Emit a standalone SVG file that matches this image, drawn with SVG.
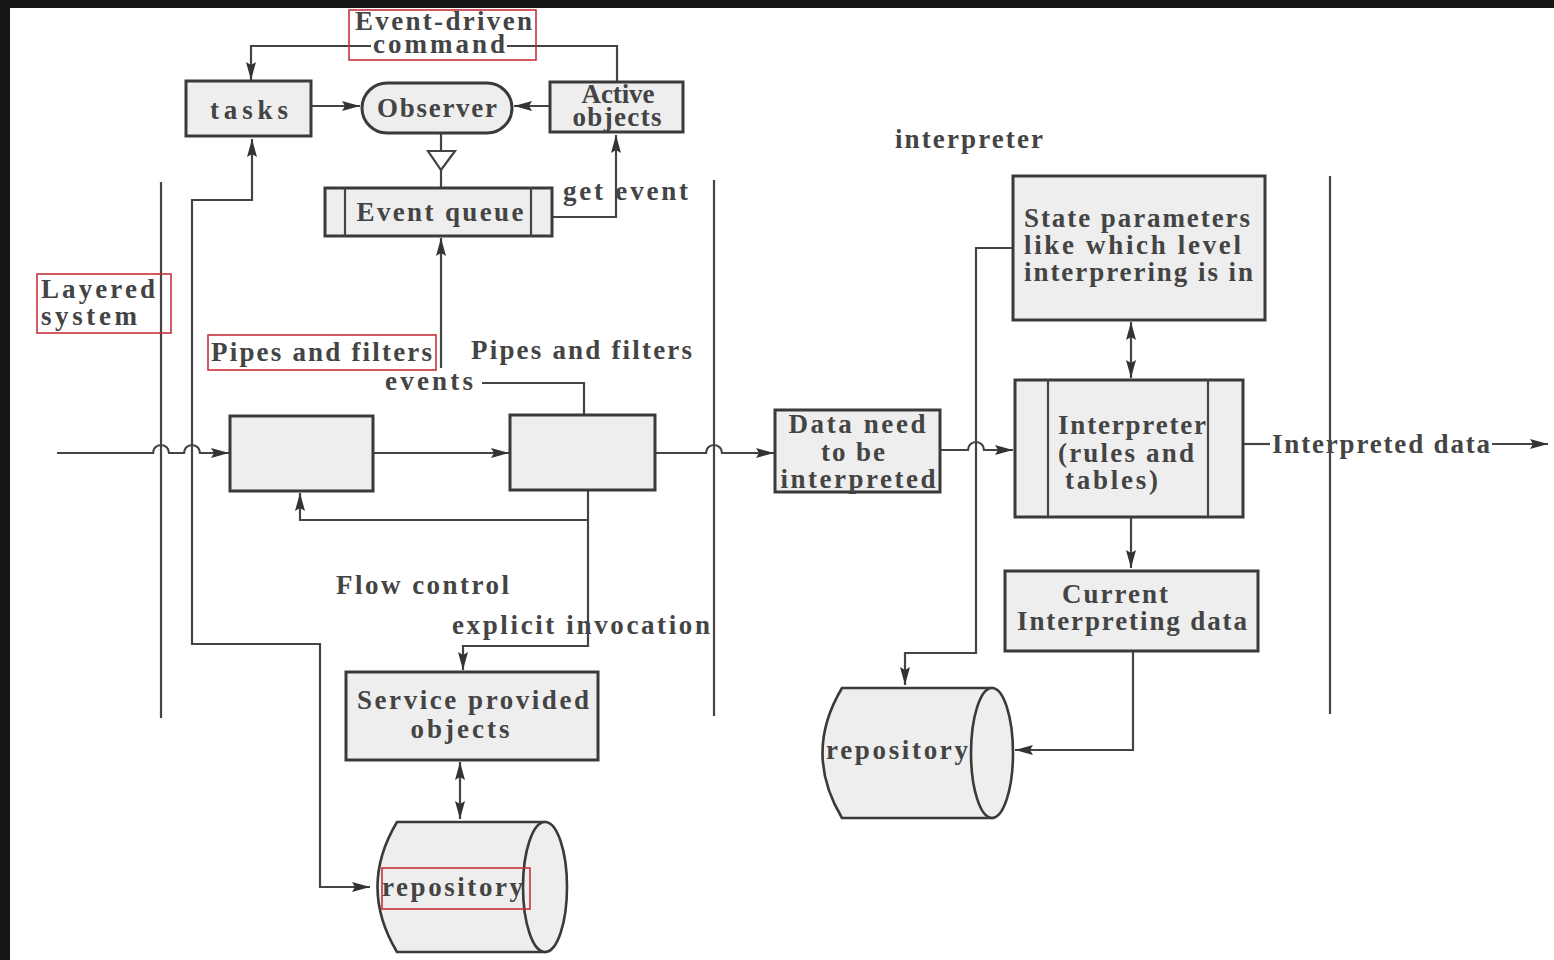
<svg xmlns="http://www.w3.org/2000/svg" width="1554" height="960" viewBox="0 0 1554 960">
<defs>
<marker id="ah" viewBox="0 0 18 10" refX="18" refY="5" markerWidth="18" markerHeight="10" markerUnits="userSpaceOnUse" orient="auto-start-reverse"><path d="M0,0 L18,5 L0,10 L3,5 z" fill="#333"/></marker>
<style>
.box{fill:#eeeeee;stroke:#3a3a3a;stroke-width:3}
.ln{fill:none;stroke:#444;stroke-width:2.2}
.arr{fill:none;stroke:#444;stroke-width:2.2;marker-end:url(#ah)}
.dbl{fill:none;stroke:#444;stroke-width:2.2;marker-end:url(#ah);marker-start:url(#ah)}
.red{fill:none;stroke:#c8303f;stroke-width:1.6}
text{font-family:"Liberation Serif","Times New Roman",serif;font-weight:bold;fill:#444;font-size:27px}
.c{text-anchor:middle}
</style>
</defs>
<rect x="0" y="0" width="1554" height="960" fill="#ffffff"/>
<rect x="0" y="0" width="1554" height="8" fill="#161616"/>
<rect x="0" y="0" width="10" height="960" fill="#161616"/>

<g id="layer-lines">
<line class="ln" x1="161" y1="182" x2="161" y2="718"/>
<line class="ln" x1="714" y1="180" x2="714" y2="716"/>
<line class="ln" x1="1330" y1="176" x2="1330" y2="714"/>
</g>

<g id="connectors">
<path class="ln" d="M617,82 V46 H507"/>
<path class="arr" d="M371,46 H251 V80"/>
<path class="arr" d="M311,106 H360"/>
<path class="arr" d="M550,106 H514"/>
<path class="ln" d="M441,133 V151 M441,170 V188"/>
<polygon points="428,151 455,151 441,170" fill="#ffffff" stroke="#444" stroke-width="2.2"/>
<path class="arr" d="M552,217 H616 V135"/>
<path class="dbl" d="M252,139 V200 H192 V644 H320 V887 H370"/>
<path class="arr" d="M57,453 H153 a8,8 0 0 1 16,0 H184 a8,8 0 0 1 16,0 H229"/>
<path class="arr" d="M373,453 H509"/>
<path class="ln" d="M584,415 V383 H482"/>
<path class="arr" d="M441,368 V238"/>
<path class="arr" d="M588,520 H300 V493"/>
<path class="arr" d="M588,490 V646 H463 V670"/>
<path class="dbl" d="M460,762 V819"/>
<path class="arr" d="M655,453 H706 a8,8 0 0 1 16,0 H774"/>
<path class="arr" d="M940,450 H968 a8,8 0 0 1 16,0 H1013"/>
<path class="arr" d="M1013,248 H976 V653 H905 V685"/>
<path class="dbl" d="M1131,322 V378"/>
<path class="arr" d="M1131,517 V568"/>
<path class="arr" d="M1133,651 V750 H1015"/>
<path class="ln" d="M1243,444 H1270"/>
<path class="arr" d="M1492,444 H1548"/>
</g>

<g id="tasks"><rect class="box" x="186" y="81" width="125" height="55"/><text class="c" x="249" y="119" font-size="32" textLength="78" lengthAdjust="spacing">tasks</text></g>
<g id="observer"><rect class="box" x="362" y="83" width="150" height="50" rx="25"/><text class="c" x="437" y="117" font-size="28" textLength="120" lengthAdjust="spacing">Observer</text></g>
<g id="active-objects"><rect class="box" x="550" y="82" width="133" height="50"/><text class="c" x="618" y="103" font-size="21" textLength="73" lengthAdjust="spacing">Active</text><text class="c" x="617" y="126" font-size="21" textLength="89" lengthAdjust="spacing">objects</text></g>
<g id="event-queue"><rect class="box" x="325" y="188" width="227" height="48"/><line class="ln" x1="345" y1="188" x2="345" y2="236" stroke-width="3"/><line class="ln" x1="531" y1="188" x2="531" y2="236" stroke-width="3"/><text class="c" x="440" y="221" textLength="167" lengthAdjust="spacing">Event queue</text></g>
<g id="filter1"><rect class="box" x="230" y="416" width="143" height="75"/></g>
<g id="filter2"><rect class="box" x="510" y="415" width="145" height="75"/></g>
<g id="service"><rect class="box" x="346" y="672" width="252" height="88"/><text class="c" x="473" y="709" textLength="232" lengthAdjust="spacing">Service provided</text><text class="c" x="460" y="738" textLength="99" lengthAdjust="spacing">objects</text></g>
<g id="repository1">
<path d="M397,822 H545 V952 H397 Q358,887 397,822 z" fill="#eeeeee" stroke="#3a3a3a" stroke-width="2.6"/>
<ellipse cx="545" cy="887" rx="22" ry="65" fill="#eeeeee" stroke="#3a3a3a" stroke-width="2.6"/>
<text x="382" y="896" textLength="141" lengthAdjust="spacing">repository</text>
</g>
<g id="data-need"><rect class="box" x="775" y="410" width="165" height="82"/><text class="c" x="857" y="433" textLength="137" lengthAdjust="spacing">Data need</text><text class="c" x="853" y="461" textLength="64" lengthAdjust="spacing">to be</text><text class="c" x="858" y="488" textLength="155" lengthAdjust="spacing">interpreted</text></g>
<g id="state-params"><rect class="box" x="1013" y="176" width="252" height="144"/><text x="1024" y="227" textLength="226" lengthAdjust="spacing">State parameters</text><text x="1024" y="254" textLength="217" lengthAdjust="spacing">like which level</text><text x="1024" y="281" textLength="229" lengthAdjust="spacing">interprering is in</text></g>
<g id="interpreter"><rect class="box" x="1015" y="380" width="228" height="137"/><line class="ln" x1="1048" y1="380" x2="1048" y2="517" stroke-width="3"/><line class="ln" x1="1208" y1="380" x2="1208" y2="517" stroke-width="3"/><text x="1058" y="434" textLength="148" lengthAdjust="spacing">Interpreter</text><text x="1058" y="462" textLength="136" lengthAdjust="spacing">(rules and</text><text x="1065" y="489" textLength="93" lengthAdjust="spacing">tables)</text></g>
<g id="current-data"><rect class="box" x="1005" y="571" width="253" height="80"/><text class="c" x="1115" y="603" textLength="106" lengthAdjust="spacing">Current</text><text class="c" x="1132" y="630" textLength="230" lengthAdjust="spacing">Interpreting data</text></g>
<g id="repository2">
<path d="M842,688 H992 V818 H842 Q803,753 842,688 z" fill="#eeeeee" stroke="#3a3a3a" stroke-width="2.6"/>
<ellipse cx="992" cy="753" rx="21" ry="65" fill="#eeeeee" stroke="#3a3a3a" stroke-width="2.6"/>
<text x="826" y="759" textLength="142" lengthAdjust="spacing">repository</text>
</g>

<g id="labels">
<text x="355" y="30" font-size="24" textLength="177" lengthAdjust="spacing">Event-driven</text>
<text x="373" y="53" font-size="24" textLength="132" lengthAdjust="spacing">command</text>
<text x="563" y="200" font-size="26" textLength="125" lengthAdjust="spacing">get event</text>
<text x="895" y="148" font-size="24" textLength="148" lengthAdjust="spacing">interpreter</text>
<text x="41" y="298" textLength="114" lengthAdjust="spacing">Layered</text>
<text x="41" y="325" textLength="96" lengthAdjust="spacing">system</text>
<text x="211" y="361" textLength="221" lengthAdjust="spacing">Pipes and filters</text>
<text x="471" y="359" textLength="221" lengthAdjust="spacing">Pipes and filters</text>
<text x="385" y="390" textLength="88" lengthAdjust="spacing">events</text>
<text x="336" y="594" textLength="173" lengthAdjust="spacing">Flow control</text>
<text x="452" y="634" textLength="258" lengthAdjust="spacing">explicit invocation</text>
<text x="1272" y="453" textLength="218" lengthAdjust="spacing">Interpreted data</text>
</g>

<g id="highlights">
<rect class="red" x="349" y="10" width="187" height="50"/>
<rect class="red" x="37" y="274" width="134" height="59"/>
<rect class="red" x="208" y="335" width="228" height="35"/>
<rect class="red" x="382" y="868" width="148" height="41"/>
</g>
</svg>
